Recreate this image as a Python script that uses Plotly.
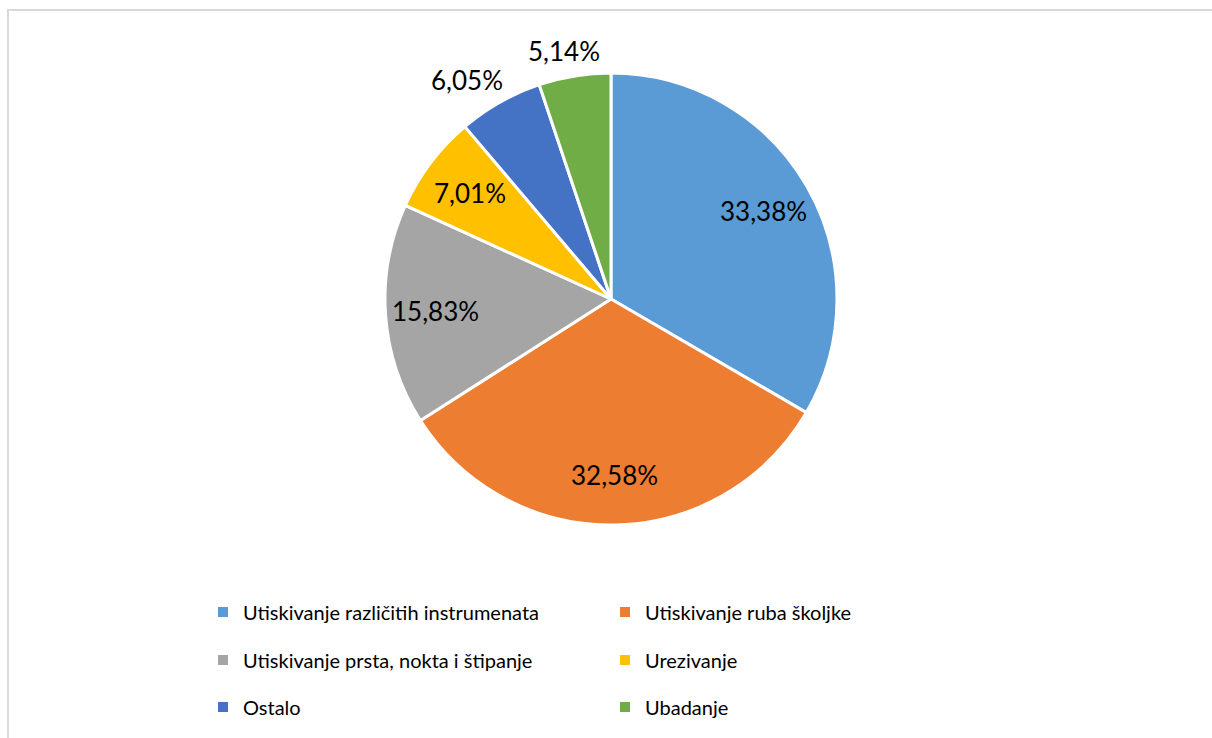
import math
import plotly.graph_objects as go

categories = [
    "Utiskivanje različitih instrumenata",
    "Utiskivanje ruba školjke",
    "Utiskivanje prsta, nokta i štipanje",
    "Urezivanje",
    "Ostalo",
    "Ubadanje",
]
values = [33.38, 32.58, 15.83, 7.01, 6.05, 5.14]
label_text = ["33,38%", "32,58%", "15,83%", "7,01%", "6,05%", "5,14%"]
colors = ["#5B9BD5", "#ED7D31", "#A5A5A5", "#FFC000", "#4472C4", "#70AD47"]
outside = [False, False, False, False, True, True]
legend_rows = [1, 1, 2, 2, 3, 3]

W, H = 1212, 738
cx, cy, r = 611, 299, 226
FONT = "Lato"

fig = go.Figure()
fig.add_trace(
    go.Pie(
        labels=categories,
        values=values,
        text=label_text,
        textinfo="none",
        sort=False,
        direction="clockwise",
        rotation=0,
        marker=dict(colors=colors, line=dict(color="white", width=3)),
        showlegend=False,
        hoverinfo="label+text",
        domain=dict(
            x=[(cx - r) / W, (cx + r) / W],
            y=[1 - (cy + r) / H, 1 - (cy - r) / H],
        ),
    )
)

# legend entries (three rows, two columns)
for name, col, row in zip(categories, colors, legend_rows):
    fig.add_trace(
        go.Scatter(
            x=[None],
            y=[None],
            mode="markers",
            name=name,
            marker=dict(symbol="square", size=10, color=col),
            legend="legend" if row == 1 else f"legend{row}",
            hoverinfo="skip",
        )
    )

# data labels positioned from the slice angles
total = sum(values)
annotations = []
cum = 0.0
for v, t, out in zip(values, label_text, outside):
    mid = (cum + v / 2) / total * 2 * math.pi
    cum += v
    s, c = math.sin(mid), math.cos(mid)
    if out:
        rr = r + 12
        px = cx + rr * s + s * 55
        py = cy - rr * c - c * 13
    else:
        rr = 0.78 * r
        px = cx + rr * s
        py = cy - rr * c
    annotations.append(
        dict(
            x=px / W,
            y=1 - py / H,
            xref="paper",
            yref="paper",
            text=t,
            showarrow=False,
            xanchor="center",
            yanchor="middle",
            font=dict(family=FONT, size=26, color="#000000"),
        )
    )

leg_common = dict(
    orientation="h",
    x=203 / W,
    xanchor="left",
    yanchor="middle",
    entrywidth=357,
    entrywidthmode="pixels",
    font=dict(family=FONT, size=20, color="#000000"),
    itemwidth=30,
    bgcolor="rgba(0,0,0,0)",
)

fig.update_layout(
    width=W,
    height=H,
    margin=dict(l=0, r=0, t=0, b=0),
    paper_bgcolor="white",
    plot_bgcolor="white",
    showlegend=True,
    xaxis=dict(visible=False),
    yaxis=dict(visible=False),
    legend=dict(y=1 - 612 / H, **leg_common),
    legend2=dict(y=1 - 660 / H, **leg_common),
    legend3=dict(y=1 - 707 / H, **leg_common),
    annotations=annotations,
    shapes=[
        dict(
            type="rect",
            xref="paper",
            yref="paper",
            x0=8 / W,
            x1=1.05,
            y0=-0.05,
            y1=1 - 10 / H,
            line=dict(color="#D9D9D9", width=2),
            fillcolor="rgba(0,0,0,0)",
            layer="below",
        )
    ],
)

fig.write_html(
    "out.html",
    config={"displayModeBar": False},
    post_script="document.body.style.margin='0';document.body.style.overflow='hidden';",
)
